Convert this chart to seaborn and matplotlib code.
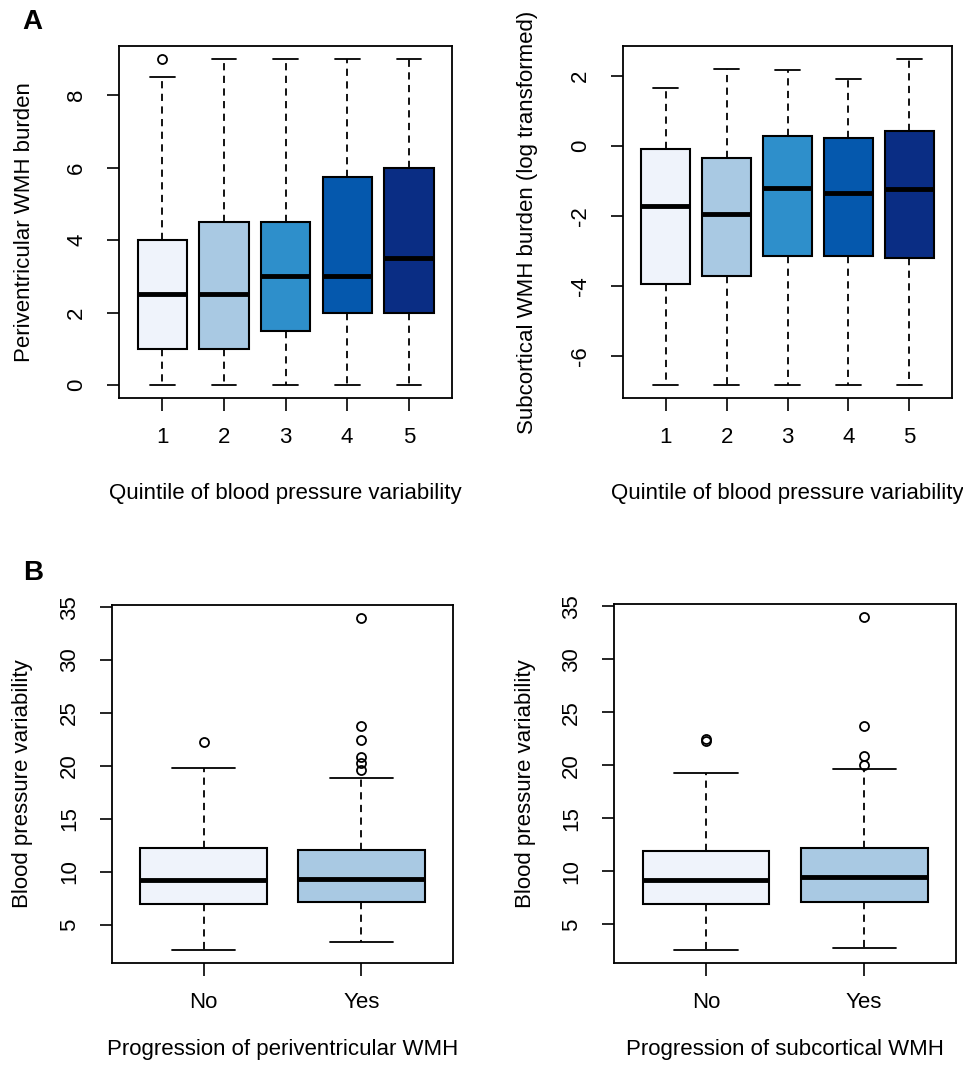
import seaborn as sns
import matplotlib
matplotlib.use("Agg")
import matplotlib.pyplot as plt

# panel A: quintiles of blood pressure variability
quintiles = ["1", "2", "3", "4", "5"]
peri_whislo = [0, 0, 0, 0, 0]
peri_q1 = [1.0, 1.0, 1.5, 2.0, 2.0]
peri_med = [2.5, 2.5, 3.0, 3.0, 3.5]
peri_q3 = [4.0, 4.5, 4.5, 5.75, 6.0]
peri_whishi = [8.5, 9, 9, 9, 9]
peri_fliers = [[9.0], [], [], [], []]

sub_whislo = [-6.83, -6.83, -6.83, -6.83, -6.83]
sub_q1 = [-3.94, -3.72, -3.15, -3.15, -3.2]
sub_med = [-1.72, -1.95, -1.2, -1.33, -1.23]
sub_q3 = [-0.08, -0.34, 0.28, 0.24, 0.44]
sub_whishi = [1.66, 2.21, 2.17, 1.92, 2.49]
sub_fliers = [[], [], [], [], []]

# panel B: progression no / yes
groups = ["No", "Yes"]
pv_whislo = [2.62, 3.35]
pv_q1 = [6.9, 7.15]
pv_med = [9.21, 9.33]
pv_q3 = [12.22, 12.0]
pv_whishi = [19.84, 18.84]
pv_fliers = [[22.3], [33.95, 23.75, 22.42, 20.84, 20.27, 19.64]]

sc_whislo = [2.62, 2.75]
sc_q1 = [6.9, 7.15]
sc_med = [9.21, 9.5]
sc_q3 = [11.9, 12.22]
sc_whishi = [19.27, 19.64]
sc_fliers = [[22.3, 22.5], [33.95, 23.75, 20.84, 20.0]]

blues = ["#eff3fb", "#a9c9e3", "#2e8fcb", "#0558ad", "#0a2d84"]

sns.set_style("ticks")
plt.rcParams["font.family"] = ["Liberation Sans", "DejaVu Sans"]
plt.rcParams["font.size"] = 16
for k in ["text.color", "axes.labelcolor", "xtick.color", "ytick.color", "axes.edgecolor"]:
    plt.rcParams[k] = "black"


def stats(labels, lo, q1, med, q3, hi, fl):
    return [dict(label=labels[i], whislo=lo[i], q1=q1[i], med=med[i], q3=q3[i],
                 whishi=hi[i], fliers=fl[i]) for i in range(len(labels))]


def draw(ax, st, colors, yticks, ylabel, xlabel, ylab_off, xlab_off):
    n = len(st)
    bp = ax.bxp(st, positions=range(1, n + 1), widths=0.8, capwidths=0.4,
                patch_artist=True, showfliers=True,
                boxprops=dict(edgecolor="black", linewidth=1.5),
                medianprops=dict(color="black", linewidth=3.5, solid_capstyle="butt"),
                whiskerprops=dict(color="black", linewidth=1.3, linestyle=(0, (4, 3))),
                capprops=dict(color="black", linewidth=1.3),
                flierprops=dict(marker="o", markerfacecolor="none", markeredgecolor="black",
                                markersize=6.5, markeredgewidth=1.3))
    for patch, c in zip(bp["boxes"], colors):
        patch.set_facecolor(c)
    vals = []
    for s in st:
        vals += [s["whislo"], s["whishi"]] + list(s["fliers"])
    lo, hi = min(vals), max(vals)
    pad = (hi - lo) * 0.04
    ax.set_ylim(lo - pad, hi + pad)
    ax.set_xlim(0.5 - 0.04 * n, n + 0.5 + 0.04 * n)
    ax.set_yticks(yticks)
    ax.set_yticklabels([str(t) for t in yticks], rotation=90, va="center")
    ax.tick_params(axis="both", length=9, width=1.2, color="black", direction="out",
                   labelsize=16, labelcolor="black")
    ax.tick_params(axis="y", pad=14)
    ax.tick_params(axis="x", pad=12)
    for sp in ax.spines.values():
        sp.set_visible(True)
        sp.set_color("black")
        sp.set_linewidth(1.3)
    ax.set_ylabel(ylabel, fontsize=16, color="black")
    ax.set_xlabel(xlabel, fontsize=16, color="black")
    ax.yaxis.set_label_coords(ylab_off, 0.5)
    ax.yaxis.label.set_va("center")
    ax.xaxis.set_label_coords(0.5, xlab_off)
    ax.xaxis.label.set_va("center")


fig = plt.figure(figsize=(9.63, 10.89), dpi=100)
W, H = 963.0, 1089.0


def add_ax(x0, y0, x1, y1):
    return fig.add_axes([x0 / W, 1 - y1 / H, (x1 - x0) / W, (y1 - y0) / H])


ax1 = add_ax(119, 46, 452, 398)
draw(ax1, stats(quintiles, peri_whislo, peri_q1, peri_med, peri_q3, peri_whishi, peri_fliers),
     blues, [0, 2, 4, 6, 8], "Periventricular WMH burden",
     "Quintile of blood pressure variability", -94 / 333, -95 / 352)

ax2 = add_ax(623, 46, 952, 398)
draw(ax2, stats(quintiles, sub_whislo, sub_q1, sub_med, sub_q3, sub_whishi, sub_fliers),
     blues, [-6, -4, -2, 0, 2], "Subcortical WMH burden (log transformed)",
     "Quintile of blood pressure variability", -96 / 329, -95 / 352)

ax3 = add_ax(112, 605, 453, 963)
draw(ax3, stats(groups, pv_whislo, pv_q1, pv_med, pv_q3, pv_whishi, pv_fliers),
     blues[:2], [5, 10, 15, 20, 25, 30, 35], "Blood pressure variability",
     "Progression of periventricular WMH", -89 / 341, -86 / 358)

ax4 = add_ax(614, 604, 956, 963)
draw(ax4, stats(groups, sc_whislo, sc_q1, sc_med, sc_q3, sc_whishi, sc_fliers),
     blues[:2], [5, 10, 15, 20, 25, 30, 35], "Blood pressure variability",
     "Progression of subcortical WMH", -89 / 342, -86 / 359)

fig.text(32 / W, 1 - 22 / H, "A", fontsize=20, fontweight="bold", ha="center", va="center")
fig.text(33 / W, 1 - 573 / H, "B", fontsize=20, fontweight="bold", ha="center", va="center")

fig.savefig("out.png", dpi=100)
